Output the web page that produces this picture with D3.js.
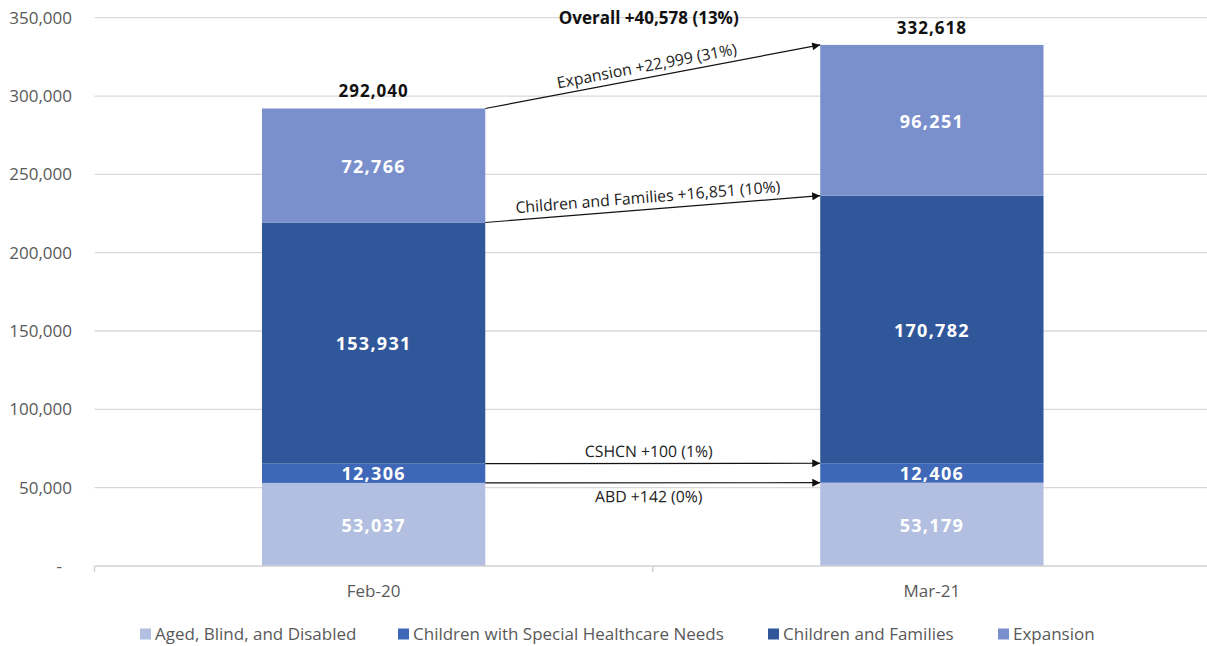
<!DOCTYPE html>
<html>
<head>
<meta charset="utf-8">
<script src="https://cdn.jsdelivr.net/npm/d3@7"></script>
<style>
	body { margin: 0; background: #fff; }
	svg { font-family: "Open Sans", sans-serif; }
</style>
</head>
<body>
<svg id="chart" width="1207" height="646"></svg>
<script>
const months = ["Feb-20", "Mar-21"];
const seriesNames = ["Aged, Blind, and Disabled", "Children with Special Healthcare Needs", "Children and Families", "Expansion"];
const abd = [53037, 53179];
const cshcn = [12306, 12406];
const families = [153931, 170782];
const expansion = [72766, 96251];
const totals = [292040, 332618];
const yTicks = [0, 50000, 100000, 150000, 200000, 250000, 300000, 350000];
const changeLabels = ["ABD +142 (0%)", "CSHCN +100 (1%)", "Children and Families +16,851 (10%)", "Expansion +22,999 (31%)"];
const overallLabel = "Overall +40,578 (13%)";
const colors = ["#b2bfe0", "#3e68b7", "#30579a", "#7990cd"];

const svg = d3.select("#chart");
const x = d3.scaleBand().domain(months).range([94.5, 1211]).paddingInner(0.6).paddingOuter(0.3);
const y = d3.scaleLinear().domain([0, 350000]).range([566, 17.7]);
const fmt = d3.format(",");

// gridlines
svg.append("g")
	.selectAll("line")
	.data(yTicks.slice(1))
	.join("line")
	.attr("x1", 94.5).attr("x2", 1211)
	.attr("y1", d => y(d)).attr("y2", d => y(d))
	.attr("stroke", "#d9d9d9").attr("stroke-width", 1.3);

// y axis labels
svg.append("g")
	.selectAll("text")
	.data(yTicks)
	.join("text")
	.attr("x", d => d === 0 ? 62 : 72)
	.attr("y", d => y(d))
	.attr("dy", "0.35em")
	.attr("text-anchor", "end")
	.attr("fill", "#595959")
	.style("font-size", "17px")
	.text(d => d === 0 ? "-" : fmt(d));

// stacked data
const rows = months.map((m, i) => ({ month: m, s0: abd[i], s1: cshcn[i], s2: families[i], s3: expansion[i] }));
const stack = d3.stack().keys(["s0", "s1", "s2", "s3"])(rows);

const layers = svg.append("g")
	.selectAll("g")
	.data(stack)
	.join("g")
	.attr("fill", (d, i) => colors[i]);

layers.selectAll("rect")
	.data(d => d)
	.join("rect")
	.attr("x", d => x(d.data.month))
	.attr("width", x.bandwidth())
	.attr("y", d => y(d[1]))
	.attr("height", d => y(d[0]) - y(d[1]));

layers.selectAll("text")
	.data(d => d)
	.join("text")
	.attr("x", d => x(d.data.month) + x.bandwidth() / 2)
	.attr("y", d => (y(d[0]) + y(d[1])) / 2)
	.attr("dy", "0.4em")
	.attr("text-anchor", "middle")
	.attr("fill", "#fff")
	.style("font-size", "18px")
	.style("letter-spacing", "1.3px")
	.style("font-weight", "bold")
	.text(d => fmt(d[1] - d[0]));

// x axis
const xAxisG = svg.append("g").attr("transform", "translate(0,566)");
xAxisG.append("line").attr("x1", 94.5).attr("x2", 1211).attr("stroke", "#d0d0d0").attr("stroke-width", 1.5);
const edges = [94.5, (x(months[0]) + x(months[1]) + x.bandwidth()) / 2, 1211];
xAxisG.selectAll(".tick").data(edges).join("line")
	.attr("x1", d => d).attr("x2", d => d).attr("y1", 0).attr("y2", 6)
	.attr("stroke", "#d0d0d0").attr("stroke-width", 1.5);
xAxisG.selectAll("text").data(months).join("text")
	.attr("x", d => x(d) + x.bandwidth() / 2)
	.attr("y", 25)
	.attr("dy", "0.35em")
	.attr("text-anchor", "middle")
	.attr("fill", "#595959")
	.style("font-size", "17px")
	.text(d => d);

// totals
svg.append("g").selectAll("text").data(totals).join("text")
	.attr("x", (d, i) => x(months[i]) + x.bandwidth() / 2)
	.attr("y", d => y(d) - 17)
	.attr("dy", "0.35em")
	.attr("text-anchor", "middle")
	.attr("fill", "#111")
	.style("font-size", "17px")
	.style("letter-spacing", "1px")
	.style("font-weight", "bold")
	.text(d => fmt(d));

svg.append("text")
	.attr("x", edges[1] - 4)
	.attr("y", 18)
	.attr("dy", "0.35em")
	.attr("text-anchor", "middle")
	.attr("fill", "#111")
	.style("font-size", "17px")
	.style("font-weight", "bold")
	.text(overallLabel);

// arrows
svg.append("defs").append("marker")
	.attr("id", "arrow")
	.attr("viewBox", "0 0 10 10")
	.attr("refX", 10).attr("refY", 5)
	.attr("markerWidth", 13).attr("markerHeight", 8)
	.attr("markerUnits", "userSpaceOnUse")
	.attr("orient", "auto")
	.append("path").attr("d", "M0,0L10,5L0,10Z").attr("fill", "#111");

const x0 = x(months[0]) + x.bandwidth();
const x1 = x(months[1]);
const arrowOffsets = [14, -12, -12, -11];
stack.forEach((layer, i) => {
	const ya = y(layer[0][1]);
	const yb = y(layer[1][1]);
	svg.append("line")
		.attr("x1", x0).attr("y1", ya)
		.attr("x2", x1).attr("y2", yb)
		.attr("stroke", "#111").attr("stroke-width", 1.2)
		.attr("marker-end", "url(#arrow)");
	const angle = Math.atan2(yb - ya, x1 - x0) * 180 / Math.PI;
	const mx = (x0 + x1) / 2 - 4;
	const my = (ya + yb) / 2;
	svg.append("text")
		.attr("transform", `translate(${mx},${my}) rotate(${angle}) translate(0,${arrowOffsets[i]})`)
		.attr("dy", "0.35em")
		.attr("text-anchor", "middle")
		.attr("fill", "#222")
		.style("font-size", "15.8px")
		.text(changeLabels[i]);
});

// legend
const legendX = [140, 398, 768, 998];
const legend = svg.append("g").selectAll("g").data(seriesNames).join("g")
	.attr("transform", (d, i) => `translate(${legendX[i]},634)`);
legend.append("rect").attr("x", 0).attr("y", -5.5).attr("width", 11).attr("height", 11)
	.attr("fill", (d, i) => colors[i]);
legend.append("text").attr("x", 15).attr("dy", "0.35em")
	.attr("fill", "#595959")
	.style("font-size", "17px")
	.text(d => d);
</script>
</body>
</html>
